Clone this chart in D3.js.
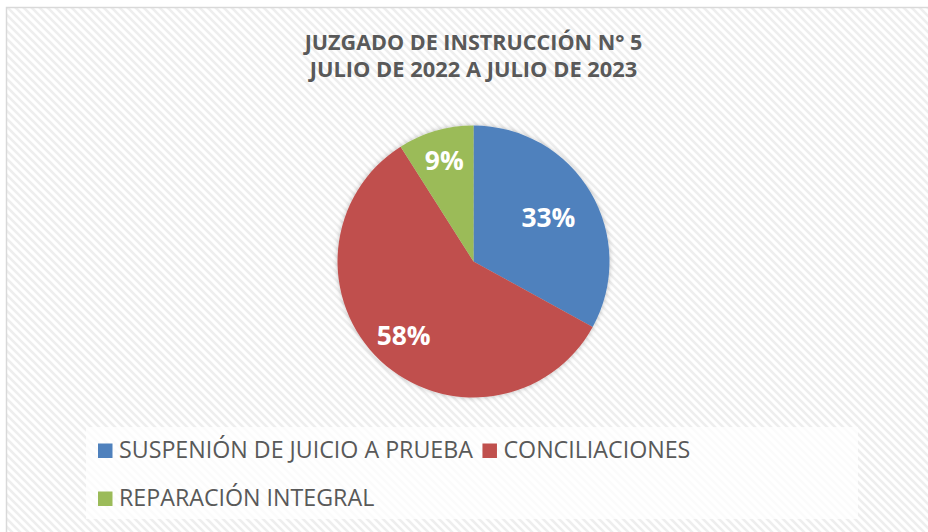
<!DOCTYPE html>
<html>
<head>
<meta charset="utf-8">
<script src="https://cdn.jsdelivr.net/npm/d3@7"></script>
<style>
  html, body { margin: 0; padding: 0; background: #fff; }
  svg { display: block; }
</style>
</head>
<body>
<div id="chart"></div>
<script>
const titleLines = ['JUZGADO DE INSTRUCCIÓN N° 5', 'JULIO DE 2022 A JULIO DE 2023'];
const categories = ['SUSPENIÓN DE JUICIO A PRUEBA', 'CONCILIACIONES', 'REPARACIÓN INTEGRAL'];
const values = [33, 58, 9];
const colors = ['#4f81bd', '#c0504d', '#9bbb59'];

const width = 928;
const height = 532;
const font = "'Open Sans', sans-serif";
const textColor = '#595959';

const svg = d3.select('#chart')
  .append('svg')
  .attr('width', width)
  .attr('height', height);

const defs = svg.append('defs');

// background hatch (wide downward diagonal)
const hatch = defs.append('pattern')
  .attr('id', 'hatch')
  .attr('patternUnits', 'userSpaceOnUse')
  .attr('width', 8)
  .attr('height', 8);
hatch.append('rect').attr('width', 8).attr('height', 8).attr('fill', '#ffffff');
hatch.append('path')
  .attr('d', 'M-2,-2 L10,10 M-2,6 L2,10 M6,-2 L10,2')
  .attr('stroke', '#eeeeee')
  .attr('stroke-width', 2.6);

const shadow = defs.append('filter')
  .attr('id', 'pieShadow')
  .attr('x', '-20%').attr('y', '-20%')
  .attr('width', '140%').attr('height', '140%');
shadow.append('feDropShadow')
  .attr('dx', 0).attr('dy', 0)
  .attr('stdDeviation', 2.5)
  .attr('flood-color', '#000')
  .attr('flood-opacity', 0.25);

// chart area frame (continues past the right/bottom edge)
svg.append('rect')
  .attr('x', 6.5)
  .attr('y', 7.5)
  .attr('width', 960)
  .attr('height', 560)
  .attr('fill', 'url(#hatch)')
  .attr('stroke', '#d9d9d9')
  .attr('stroke-width', 1.5);

// scale a text's font size so it spans the wanted width
function fitText(sel, target) {
  const w = sel.node().getComputedTextLength();
  const size = parseFloat(sel.attr('font-size'));
  sel.attr('font-size', size * target / w);
  return size * target / w;
}

// Title
const cx = 473.5;
const titleWidths = [338, 328];
titleLines.forEach((line, i) => {
  const t = svg.append('text')
    .attr('x', cx)
    .attr('y', 49.5 + i * 27.5)
    .attr('text-anchor', 'middle')
    .attr('font-family', font)
    .attr('font-weight', 700)
    .attr('font-size', 18)
    .attr('fill', textColor)
    .text(line);
  fitText(t, titleWidths[i]);
});

// Pie
const radius = 136;
const cy = 261.5;
const pie = d3.pie().sort(null).value((d) => d);
const arcs = pie(values);
const arc = d3.arc().innerRadius(0).outerRadius(radius);

const g = svg.append('g').attr('transform', `translate(${cx},${cy})`);

g.append('g')
  .attr('filter', 'url(#pieShadow)')
  .selectAll('path')
  .data(arcs)
  .enter()
  .append('path')
  .attr('d', arc)
  .attr('fill', (d, i) => colors[i]);

// label distance from centre, as a share of the radius (best-fit placement)
const labelRadius = [0.64, 0.75, 0.77];
const labels = g.selectAll('.pct')
  .data(arcs)
  .enter()
  .append('text')
  .attr('class', 'pct')
  .attr('transform', (d, i) => {
    const a = (d.startAngle + d.endAngle) / 2;
    const r = radius * labelRadius[i];
    return `translate(${Math.sin(a) * r},${-Math.cos(a) * r})`;
  })
  .attr('text-anchor', 'middle')
  .attr('dy', '0.36em')
  .attr('font-family', font)
  .attr('font-weight', 700)
  .attr('font-size', 26)
  .attr('fill', '#ffffff')
  .text((d) => `${d.data}%`);
const labelSize = fitText(labels.filter((d, i) => i === 0), 54);
labels.attr('font-size', labelSize);

// Legend
svg.append('rect')
  .attr('x', 86)
  .attr('y', 427)
  .attr('width', 772)
  .attr('height', 92)
  .attr('fill', '#ffffff')
  .attr('opacity', 0.75);

const legendRows = [[0, 1], [2]];
const rowY = [458, 506];
const sq = 14.5;
let legendSize = null;
legendRows.forEach((row, r) => {
  let x = 98;
  row.forEach((i) => {
    svg.append('rect')
      .attr('x', x)
      .attr('y', rowY[r] - sq)
      .attr('width', sq)
      .attr('height', sq)
      .attr('fill', colors[i]);
    const t = svg.append('text')
      .attr('x', x + sq + 6.5)
      .attr('y', rowY[r])
      .attr('font-family', font)
      .attr('font-size', legendSize || 20)
      .attr('fill', textColor)
      .text(categories[i]);
    if (!legendSize) legendSize = fitText(t, 354);
    x += sq + 6.5 + t.node().getComputedTextLength() + 9.5;
  });
});
</script>
</body>
</html>
